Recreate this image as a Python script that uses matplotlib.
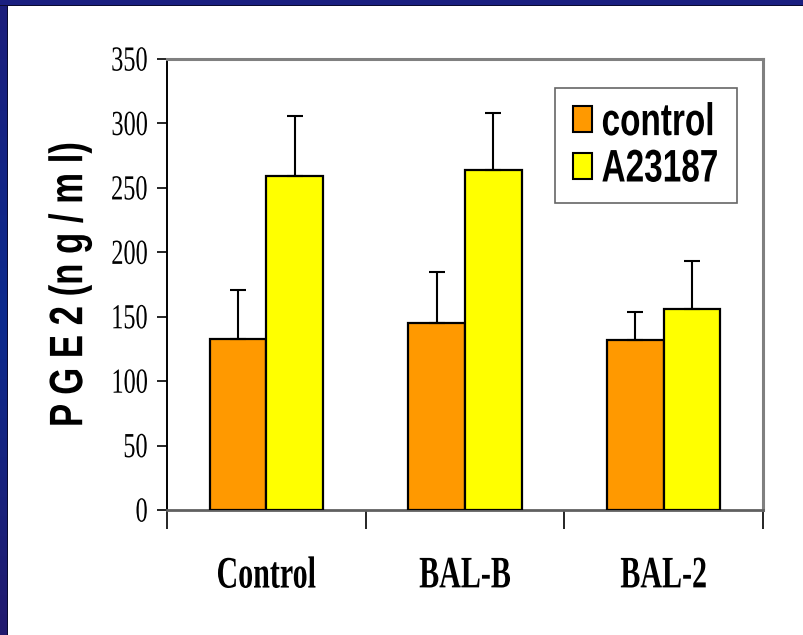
import numpy as np
import matplotlib
matplotlib.use("Agg")
import matplotlib.pyplot as plt
from matplotlib.patches import Rectangle, Patch
from matplotlib.patheffects import AbstractPathEffect
from matplotlib.transforms import Affine2D

categories = ["Control", "BAL-B", "BAL-2"]
series_names = ["control", "A23187"]
control_vals = [133, 145, 132]
control_err = [38, 40, 22]
a23187_vals = [259, 264, 156]
a23187_err = [47, 44, 37]
yticks = [0, 50, 100, 150, 200, 250, 300, 350]


class Stretch(AbstractPathEffect):
    """Draw text glyphs stretched about their own centre (condensed look)."""
    def __init__(self, sx=1.0, sy=1.0):
        super().__init__()
        self.sx, self.sy = sx, sy

    def draw_path(self, renderer, gc, tpath, affine, rgbFace=None):
        bb = tpath.get_extents(affine)
        cx, cy = (bb.x0 + bb.x1) / 2, (bb.y0 + bb.y1) / 2
        t = affine + Affine2D().translate(-cx, -cy).scale(self.sx, self.sy).translate(cx, cy)
        renderer.draw_path(gc, tpath, t, rgbFace)


fig = plt.figure(figsize=(8.04, 6.35), dpi=100)
fig.patch.set_facecolor("white")

# blue slide border (top and left)
fig.patches.append(Rectangle((0, 1 - 5/635), 1, 5/635, transform=fig.transFigure,
                             facecolor="#1a1f80", edgecolor="none", zorder=0))
fig.patches.append(Rectangle((0, 1 - 6/635), 1, 1/635, transform=fig.transFigure,
                             facecolor="#0a0a30", edgecolor="none", zorder=0))
bax = fig.add_axes([0, 0, 7/804, 1 - 5/635])
grad = np.linspace(0, 1, 256)
cols = np.array([[0x1c, 0x1e, 0x7c], [0x0c, 0x2a, 0x8e], [0x22, 0x1a, 0x6e]]) / 255
pos = np.array([0, 0.5, 1])
img = np.stack([np.interp(grad, pos, cols[:, k]) for k in range(3)], axis=-1)[:, None, :]
bax.imshow(img, aspect="auto", extent=[0, 1, 0, 1])
bax.axis("off")
fig.patches.append(Rectangle((7/804, 0), 1/804, 1 - 5/635, transform=fig.transFigure,
                             facecolor="#0a0a30", edgecolor="none", zorder=0))

ax = fig.add_axes([167/804, 125/635, (763 - 167)/804, (510 - 59)/635])
x = np.arange(len(categories))
w = 1 / 3.5
ekw = dict(ecolor="black", elinewidth=1.5, capsize=5.5, capthick=1.5)
ax.bar(x - w/2, control_vals, w, color="#FF9900", edgecolor="black", linewidth=1.6,
       yerr=[[0]*3, control_err], error_kw=ekw, label=series_names[0], zorder=3)
ax.bar(x + w/2, a23187_vals, w, color="#FFFF00", edgecolor="black", linewidth=1.6,
       yerr=[[0]*3, a23187_err], error_kw=ekw, label=series_names[1], zorder=3)

ax.set_xlim(-0.5, 2.5)
ax.set_ylim(0, 350)
ax.set_yticks(yticks)
ylabs = ax.set_yticklabels([str(v) for v in yticks], family="Liberation Serif", fontsize=17.5)
for t in ylabs:
    t.set_path_effects([Stretch(1.0, 1.45)])
ax.tick_params(axis="y", direction="out", length=7, width=1.2, pad=7, color="black")

ax.set_xticks([-0.5, 0.5, 1.5, 2.5])
ax.set_xticklabels([])
ax.tick_params(axis="x", direction="out", length=14, width=1.2, color="black")
for xi, lab in zip(x, categories):
    ax.text(xi, -0.144, lab, transform=ax.get_xaxis_transform(), ha="center", va="center",
            family="Liberation Serif", fontweight="bold", fontsize=21.6,
            path_effects=[Stretch(1.0, 1.5)])

for s in ["top", "right"]:
    ax.spines[s].set_color("#808080")
    ax.spines[s].set_linewidth(2.2)
ax.spines["bottom"].set_color("#606060")
ax.spines["bottom"].set_linewidth(2.0)
ax.spines["left"].set_color("black")
ax.spines["left"].set_linewidth(1.4)

yl = ax.set_ylabel("P G E 2 (n g / m l)", family="Liberation Sans", fontweight="bold",
                   fontsize=25, labelpad=18)
yl.set_path_effects([Stretch(1.35, 1.0)])

handles = [Patch(facecolor="#FF9900", edgecolor="black", linewidth=1.5),
           Patch(facecolor="#FFFF00", edgecolor="black", linewidth=1.5)]
leg = ax.legend(handles, series_names, loc="upper right", bbox_to_anchor=(0.956, 0.936),
                prop=dict(family="Liberation Sans", weight="bold", size=24),
                frameon=True, fancybox=False, edgecolor="#404040", handlelength=0.56,
                handleheight=0.82, handletextpad=0.3, borderpad=0.55, labelspacing=0.45,
                borderaxespad=0)
leg.get_frame().set_linewidth(1.2)
for t in leg.get_texts():
    t.set_path_effects([Stretch(1.0, 1.37)])

fig.savefig("out.png", dpi=100, facecolor="white")
